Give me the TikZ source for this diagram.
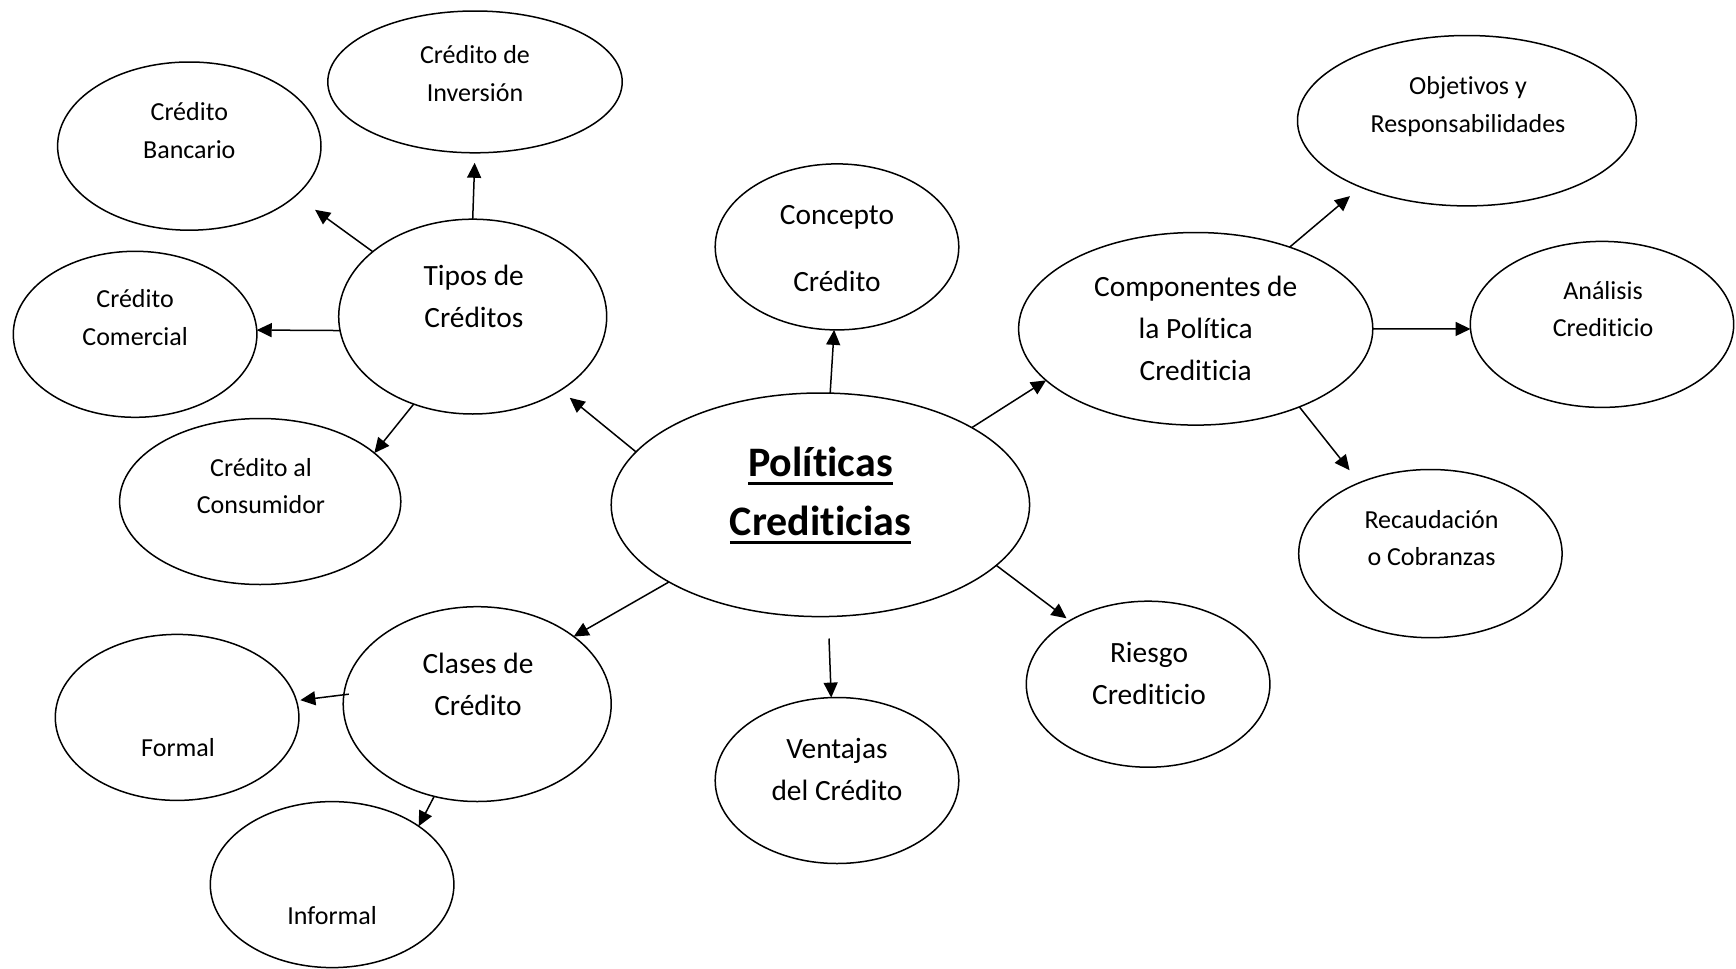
\documentclass[tikz,border=0pt]{standalone}
\usepackage{fontspec}
\setmainfont{Carlito}[RawFeature={-liga;-clig;-calt}]
\usetikzlibrary{arrows.meta,shapes.geometric}
\newcommand\ulword[1]{\leavevmode\vtop{\hbox{#1}\kern2.4pt\hrule height 1.5pt}}
\begin{document}
\begin{tikzpicture}[x=0.5pt,y=0.5pt,yscale=-1,xscale=1,
	bub/.style={draw, ellipse, line width=0.75pt, inner sep=0pt, outer sep=0pt},
	txts/.style={align=center, inner sep=0pt, font=\fontsize{13}{18.8}\selectfont},
	txtm/.style={align=center, inner sep=0pt, font=\fontsize{14.7}{21}\selectfont},
	txtl/.style={align=center, inner sep=0pt, font=\fontsize{21}{29.3}\selectfont\bfseries},
	arr/.style={line width=0.75pt, -{Triangle[length=7.5pt,width=7pt]}}]
			\useasboundingbox (0,0) rectangle (1736,969);
			
			%Shape: Ellipse [id:pc] 
			\node [bub, minimum width=209.2pt, minimum height=111.8pt] (pc) at (820.4,504.8) {};
			%Shape: Ellipse [id:tipos] 
			\node [bub, minimum width=134pt, minimum height=97.4pt] (tipos) at (472.7,316.6) {};
			%Shape: Ellipse [id:inversion] 
			\node [bub, minimum width=147.2pt, minimum height=70.9pt] (inversion) at (475,81.9) {};
			%Shape: Ellipse [id:bancario] 
			\node [bub, minimum width=131.7pt, minimum height=84.1pt] (bancario) at (189.3,146.1) {};
			%Shape: Ellipse [id:comercial] 
			\node [bub, minimum width=121.8pt, minimum height=83pt] (comercial) at (135.1,334.3) {};
			%Shape: Ellipse [id:consumidor] 
			\node [bub, minimum width=140.6pt, minimum height=83pt] (consumidor) at (260.2,501.5) {};
			%Shape: Ellipse [id:concepto] 
			\node [bub, minimum width=121.8pt, minimum height=83pt] (concepto) at (837,246.9) {};
			%Shape: Ellipse [id:componentes] 
			\node [bub, minimum width=177.1pt, minimum height=96.3pt] (componentes) at (1195.7,328.8) {};
			%Shape: Ellipse [id:objetivos] 
			\node [bub, minimum width=169.4pt, minimum height=85.2pt] (objetivos) at (1466.9,120.7) {};
			%Shape: Ellipse [id:analisis] 
			\node [bub, minimum width=131.7pt, minimum height=83pt] (analisis) at (1602,324.4) {};
			%Shape: Ellipse [id:recaudacion] 
			\node [bub, minimum width=131.7pt, minimum height=84.1pt] (recaudacion) at (1430.4,553.6) {};
			%Shape: Ellipse [id:riesgo] 
			\node [bub, minimum width=121.8pt, minimum height=83pt] (riesgo) at (1148.1,684.2) {};
			%Shape: Ellipse [id:ventajas] 
			\node [bub, minimum width=121.8pt, minimum height=83pt] (ventajas) at (837,780.5) {};
			%Shape: Ellipse [id:clases] 
			\node [bub, minimum width=134pt, minimum height=97.4pt] (clases) at (477.2,704.1) {};
			%Shape: Ellipse [id:formal] 
			\node [bub, minimum width=121.8pt, minimum height=83pt] (formal) at (177.1,717.4) {};
			%Shape: Ellipse [id:informal] 
			\node [bub, minimum width=121.8pt, minimum height=83pt] (informal) at (332.1,884.6) {};
			
			%Straight Lines [id:pc-tipos] 
			\draw [arr, shorten >=6pt] (pc.164) -- (tipos.-40) ;
			%Straight Lines [id:tipos-inversion] 
			\draw [arr, shorten >=5pt] (tipos.90) -- (inversion.-90) ;
			%Straight Lines [id:tipos-bancario] 
			\draw [arr, shorten >=12pt] (tipos.147) -- (bancario.-25) ;
			%Straight Lines [id:tipos-comercial] 
			\draw [arr] (tipos.186) -- (comercial.2) ;
			%Straight Lines [id:tipos-consumidor] 
			\draw [arr] (tipos.-124) -- (consumidor.23) ;
			%Straight Lines [id:pc-concepto] 
			\draw [arr] (pc.85) -- (concepto.-92) ;
			%Straight Lines [id:pc-componentes] 
			\draw [arr] (pc.27) -- (componentes.-161) ;
			%Straight Lines [id:componentes-objetivos] 
			\draw [arr, shorten >=7pt] (componentes.41) -- (objetivos.212) ;
			%Straight Lines [id:componentes-analisis] 
			\draw [arr] (componentes.0) -- (analisis.182) ;
			%Straight Lines [id:componentes-recaudacion] 
			\draw [arr, shorten >=8pt] (componentes.-37) -- (recaudacion.135) ;
			%Straight Lines [id:pc-riesgo] 
			\draw [arr, shorten >=2pt] (pc.-19) -- (riesgo.141) ;
			%Straight Lines [id:pc-ventajas] 
			\draw [arr, shorten <=11pt] (pc.-86) -- (ventajas.94) ;
			%Straight Lines [id:pc-clases] 
			\draw [arr] (pc.207) -- (clases.35) ;
			%Straight Lines [id:clases-formal] 
			\draw [arr, shorten <=-2.5pt, shorten >=2pt] (clases.176) -- (formal.8) ;
			%Straight Lines [id:clases-informal] 
			\draw [arr] (clases.-115) -- (informal.34) ;
			
			% Text Node
			\node [txtl] (pc-t) at (820.4,495.5) {\ulword{Políticas}\\\ulword{Crediticias}};
			% Text Node
			\node [txtm] (tipos-t) at (473.8,296.7) {Tipos de\\Créditos};
			% Text Node
			\node [txts] (inversion-t) at (475,73.6) {Crédito de\\Inversión};
			% Text Node
			\node [txts] (bancario-t) at (189.3,130.6) {Crédito\\Bancario};
			% Text Node
			\node [txts] (comercial-t) at (135.1,317.7) {Crédito\\Comercial};
			% Text Node
			\node [txts] (consumidor-t) at (261,486) {Crédito al\\Consumidor};
			% Text Node
			\node [txtm] (concepto-t) at (837,248.5) {Concepto\\[12.75pt]Crédito};
			% Text Node
			\node [txtm] (componentes-t) at (1195.7,328.8) {Componentes de\\la Política\\Crediticia};
			% Text Node
			\node [txts] (objetivos-t) at (1468,106.3) {Objetivos y\\Responsabilidades};
			% Text Node
			\node [txts] (analisis-t) at (1603,308.9) {Análisis\\Crediticio};
			% Text Node
			\node [txts] (recaudacion-t) at (1431.5,538) {Recaudación\\o Cobranzas};
			% Text Node
			\node [txtm] (riesgo-t) at (1149,673.7) {Riesgo\\Crediticio};
			% Text Node
			\node [txtm] (ventajas-t) at (837,769.4) {Ventajas\\del Crédito};
			% Text Node
			\node [txtm] (clases-t) at (478,684.2) {Clases de\\Crédito};
			% Text Node
			\node [txts] (formal-t) at (178,747.3) {Formal};
			% Text Node
			\node [txts] (informal-t) at (332.1,915.6) {Informal};
			
\end{tikzpicture}
\end{document}
